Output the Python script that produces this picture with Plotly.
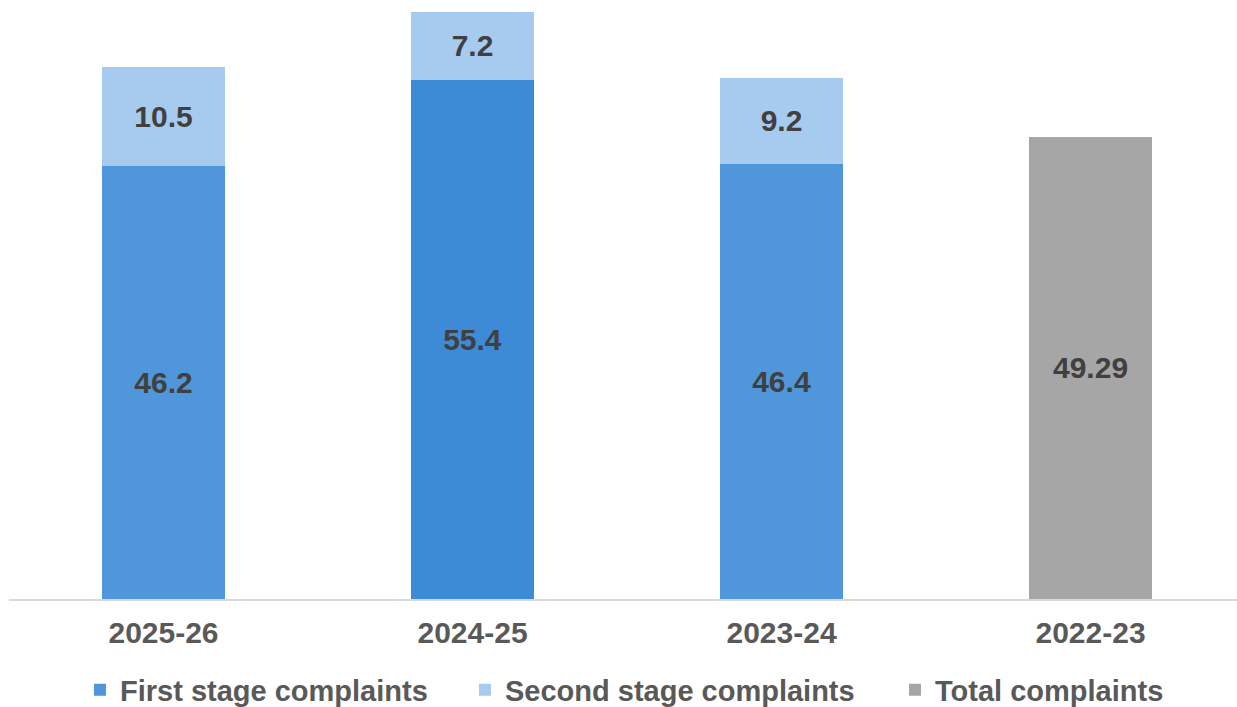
import plotly.graph_objects as go

# Complaint volumes by year
years = ["2025-26", "2024-25", "2023-24", "2022-23"]
first_stage = [46.2, 55.4, 46.4, None]
second_stage = [10.5, 7.2, 9.2, None]
total_only = [None, None, None, 49.29]

first_colors = ["#4F96DA", "#3D8AD6", "#4F96DA", "#4F96DA"]
second_color = "#A7CBEE"
total_color = "#A6A6A6"

label_font = dict(family="Liberation Sans, Arial, sans-serif", size=30, color="#404040", weight="bold")
axis_font = dict(family="Liberation Sans, Arial, sans-serif", size=30, color="#595959", weight="bold")
legend_font = dict(family="Liberation Sans, Arial, sans-serif", size=29, color="#595959", weight="bold")


def fmt(vals):
    return ["" if v is None else f"{v}" for v in vals]


fig = go.Figure()
fig.add_trace(go.Bar(
    name="First stage complaints", x=years, y=first_stage,
    marker=dict(color=first_colors, line=dict(width=0)),
    text=fmt(first_stage), textposition="inside", insidetextanchor="middle",
    textfont=label_font, width=0.4, hoverinfo="skip", legend="legend",
))
fig.add_trace(go.Bar(
    name="Second stage complaints", x=years, y=second_stage,
    marker=dict(color=second_color, line=dict(width=0)),
    text=fmt(second_stage), textposition="inside", insidetextanchor="middle",
    textfont=label_font, width=0.4, hoverinfo="skip", legend="legend2",
))
fig.add_trace(go.Bar(
    name="Total complaints", x=years, y=total_only,
    marker=dict(color=total_color, line=dict(width=0)),
    text=fmt(total_only), textposition="inside", insidetextanchor="middle",
    textfont=label_font, width=0.4, hoverinfo="skip", legend="legend3",
))

legend_common = dict(
    orientation="h", y=-0.153, yanchor="middle", xanchor="left",
    font=legend_font, itemwidth=30, bgcolor="rgba(0,0,0,0)",
)

fig.update_layout(
    barmode="stack",
    width=1237, height=707,
    margin=dict(l=9, r=0, t=5, b=108, autoexpand=False),
    paper_bgcolor="white", plot_bgcolor="white",
    uniformtext=dict(mode=False),
    xaxis=dict(
        type="category", range=[-0.5, 3.474],
        showline=True, linecolor="#D9D9D9", linewidth=1.5,
        showgrid=False, zeroline=False, ticks="",
        tickfont=axis_font, ticklabelstandoff=6,
    ),
    yaxis=dict(range=[0, 63.35], visible=False, showgrid=False, zeroline=False),
    legend=dict(x=0.0578, **legend_common),
    legend2=dict(x=0.3713, **legend_common),
    legend3=dict(x=0.7215, **legend_common),
    showlegend=True,
)

fig.write_html("out.html")
